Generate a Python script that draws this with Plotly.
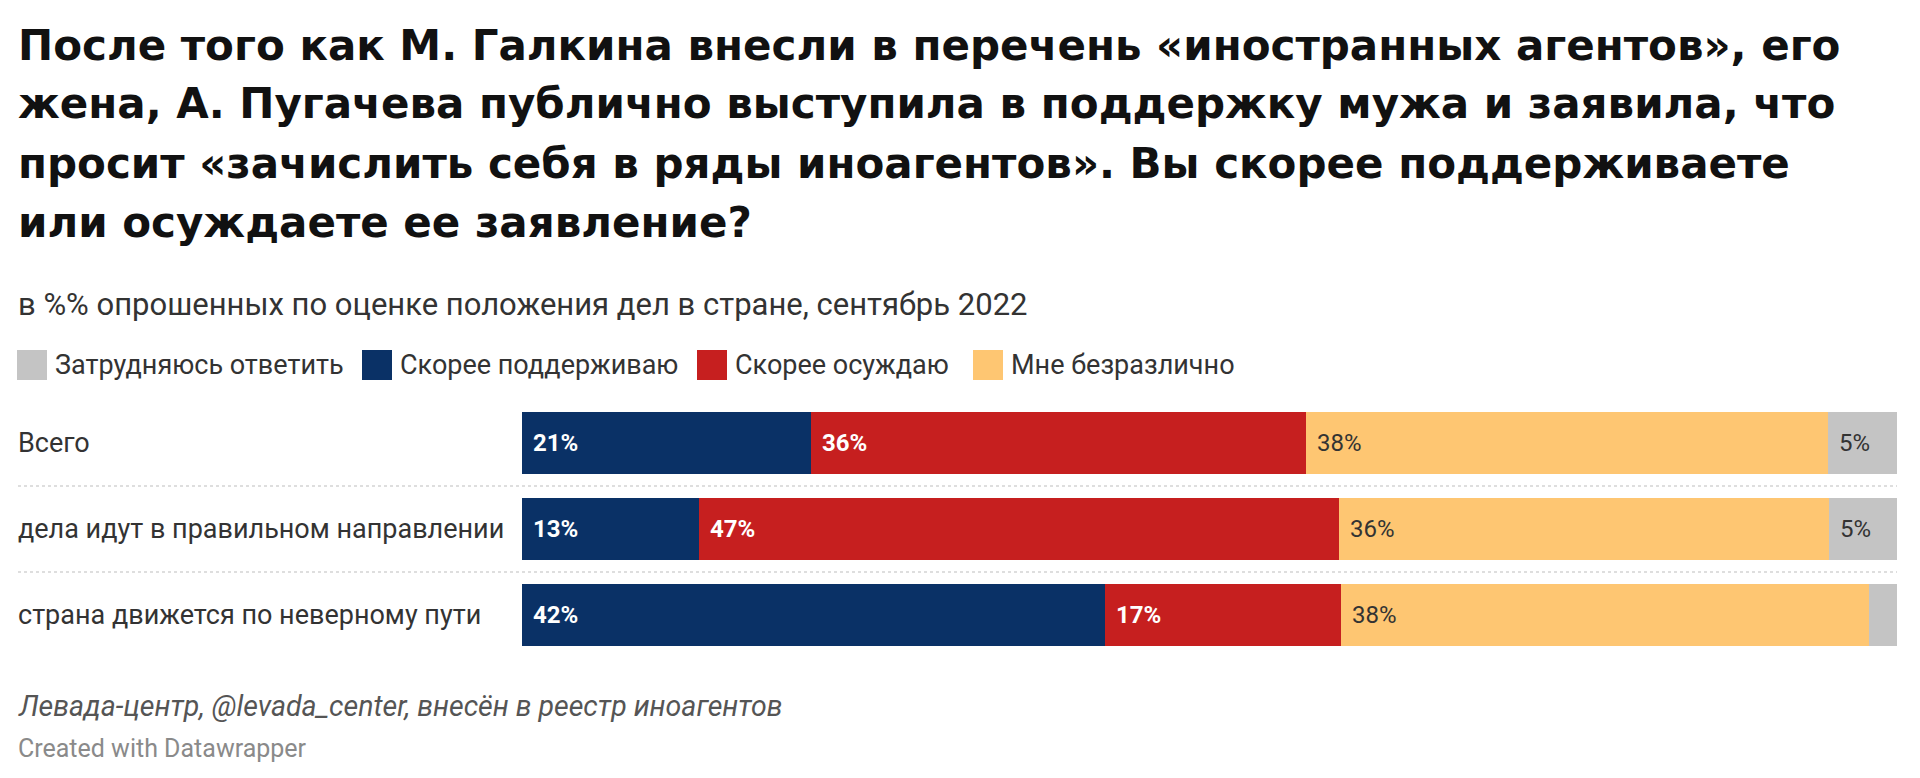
import plotly.graph_objects as go

# ---------------- data ----------------
title_lines = [
    "После того как М. Галкина внесли в перечень «иностранных агентов», его",
    "жена, А. Пугачева публично выступила в поддержку мужа и заявила, что",
    "просит «зачислить себя в ряды иноагентов». Вы скорее поддерживаете",
    "или осуждаете ее заявление?",
]
subtitle = "в %% опрошенных по оценке положения дел в стране, сентябрь 2022"
source_text = "Левада-центр, @levada_center, внесён в реестр иноагентов"
credit_text = "Created with Datawrapper"

categories = [
    "Всего",
    "дела идут в правильном направлении",
    "страна движется по неверному пути",
]
series_names = ["Скорее поддерживаю", "Скорее осуждаю", "Мне безразлично", "Затрудняюсь ответить"]
support = [21, 13, 42]
condemn = [36, 47, 17]
indifferent = [38, 36, 38]
hard_to_say = [5, 5, 2]
legend_order = ["Затрудняюсь ответить", "Скорее поддерживаю", "Скорее осуждаю", "Мне безразлично"]

# ---------------- style ----------------
colors = {
    "Скорее поддерживаю": "#0a3166",
    "Скорее осуждаю": "#c61f1f",
    "Мне безразлично": "#fec672",
    "Затрудняюсь ответить": "#c4c4c4",
}
label_colors = {
    "Скорее поддерживаю": "#ffffff",
    "Скорее осуждаю": "#ffffff",
    "Мне безразлично": "#333333",
    "Затрудняюсь ответить": "#333333",
}
label_weight = {
    "Скорее поддерживаю": 700,
    "Скорее осуждаю": 700,
    "Мне безразлично": 400,
    "Затрудняюсь ответить": 400,
}
BODY = "Roboto, Arial, sans-serif"
TITLE = "DejaVu Sans, Arial, sans-serif"

W, H = 1920, 778
L, R, T, B = 522, 23, 400, 120
PW, PH = W - L - R, H - T - B


def px(xp):
    return (xp - L) / PW


def py(yp):
    return 1 - (yp - T) / PH


values = dict(zip(series_names, [support, condemn, indifferent, hard_to_say]))

fig = go.Figure()
for name in series_names:
    fig.add_trace(go.Bar(
        y=categories, x=values[name], name=name, orientation="h",
        marker=dict(color=colors[name], line=dict(width=0)),
        showlegend=False, hovertemplate="%{y}: " + name + "<extra></extra>",
    ))

annotations = []
# value labels (positioned on the percent-normalised stack)
for i, cat in enumerate(categories):
    total = sum(values[n][i] for n in series_names)
    base = 0
    for name in series_names:
        v = values[name][i]
        if v >= 4:
            annotations.append(dict(
                x=base / total * 100, y=cat, xref="x", yref="y", xanchor="left", yanchor="middle",
                xshift=9, text=f"{v}%", showarrow=False,
                font=dict(family=BODY, size=24, color=label_colors[name], weight=label_weight[name]),
            ))
        base += v

# category labels
for cat in categories:
    annotations.append(dict(
        x=px(16), y=cat, xref="paper", yref="y", xanchor="left", yanchor="middle",
        text=cat, showarrow=False, font=dict(family=BODY, size=27, color="#333333"),
    ))

# title lines
title_centers = [45, 104, 163, 222]
for line, yc in zip(title_lines, title_centers):
    annotations.append(dict(
        x=px(16), y=py(yc), xref="paper", yref="paper", xanchor="left", yanchor="middle",
        text=line, showarrow=False, font=dict(family=TITLE, size=42, color="#111111", weight=700),
    ))

annotations.append(dict(
    x=px(16), y=py(304), xref="paper", yref="paper", xanchor="left", yanchor="middle",
    text=subtitle, showarrow=False, font=dict(family=BODY, size=31, color="#333333"),
))

# custom legend
shapes = []
legend_sq = {"Затрудняюсь ответить": 17, "Скорее поддерживаю": 362,
             "Скорее осуждаю": 697, "Мне безразлично": 973}
for name in legend_order:
    x0 = legend_sq[name]
    shapes.append(dict(type="rect", xref="paper", yref="paper",
                       x0=px(x0), x1=px(x0 + 30), y0=py(380), y1=py(350),
                       fillcolor=colors[name], line=dict(width=0)))
    annotations.append(dict(
        x=px(x0 + 36), y=py(365), xref="paper", yref="paper", xanchor="left", yanchor="middle",
        text=name, showarrow=False, font=dict(family=BODY, size=27, color="#333333"),
    ))

# separators
for yv in [0.5, 1.5]:
    shapes.append(dict(type="line", xref="paper", yref="y", x0=px(18), x1=1, y0=yv, y1=yv,
                       line=dict(color="#d4d4d4", width=1.5, dash="dot"), layer="below"))

# footer
annotations.append(dict(
    x=px(16), y=py(706), xref="paper", yref="paper", xanchor="left", yanchor="middle",
    text=f"<i>{source_text}</i>", showarrow=False, font=dict(family=BODY, size=28.5, color="#555555"),
))
annotations.append(dict(
    x=px(16), y=py(748), xref="paper", yref="paper", xanchor="left", yanchor="middle",
    text=credit_text, showarrow=False, font=dict(family=BODY, size=25, color="#8a8a8a"),
))

fig.update_layout(
    width=W, height=H, margin=dict(l=L, r=R, t=T, b=B, pad=0),
    barmode="stack", barnorm="percent", bargap=0.29,
    plot_bgcolor="white", paper_bgcolor="white",
    xaxis=dict(range=[0, 100], visible=False, fixedrange=True),
    yaxis=dict(range=[2.5, -0.5], visible=False, fixedrange=True, type="category"),
    annotations=annotations, shapes=shapes, showlegend=False,
)

fig.write_html("out.html", config={"displayModeBar": False})
